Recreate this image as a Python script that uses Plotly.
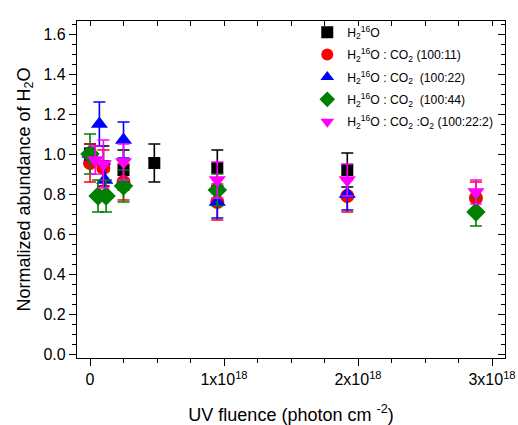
import plotly.graph_objects as go

# ---- data (fluence in units of 1e18 photon cm^-2) ----
h2o_x = [0.0, 0.10, 0.25, 0.48, 0.95, 1.92]
h2o_y = [1.00, 0.94, 0.92, 0.955, 0.93, 0.92]
h2o_e = [0.05, 0.10, 0.10, 0.095, 0.09, 0.085]

co2_11_x = [0.0, 0.10, 0.25, 0.95, 1.92, 2.88]
co2_11_y = [0.955, 0.93, 0.86, 0.76, 0.79, 0.78]
co2_11_e = [0.095, 0.09, 0.09, 0.09, 0.08, 0.08]

co2_22_x = [0.0, 0.07, 0.11, 0.25, 0.95, 1.92]
co2_22_y = [1.00, 1.15, 0.87, 1.07, 0.76, 0.80]
co2_22_e = [0.03, 0.11, 0.08, 0.09, 0.08, 0.08]

co2_44_x = [0.0, 0.06, 0.12, 0.25, 0.95, 2.88]
co2_44_y = [1.00, 0.79, 0.79, 0.84, 0.82, 0.71]
co2_44_e = [0.10, 0.08, 0.08, 0.08, 0.08, 0.07]

o2_x = [0.04, 0.10, 0.25, 0.95, 1.92, 2.88]
o2_y = [0.97, 0.95, 0.96, 0.87, 0.87, 0.81]
o2_e = [0.07, 0.12, 0.09, 0.09, 0.08, 0.06]

x_tickvals = [0, 1, 2, 3]
x_ticktext = ["0", "1x10<sup>18</sup>", "2x10<sup>18</sup>", "3x10<sup>18</sup>"]

series = [
    ("H<sub>2</sub><sup>16</sup>O", h2o_x, h2o_y, h2o_e, "#000000", "square", 12),
    ("H<sub>2</sub><sup>16</sup>O : CO<sub>2</sub> (100:11)", co2_11_x, co2_11_y, co2_11_e, "#ff0000", "circle", 14),
    ("H<sub>2</sub><sup>16</sup>O : CO<sub>2</sub>  (100:22)", co2_22_x, co2_22_y, co2_22_e, "#0000ff", "triangle-up", 15),
    ("H<sub>2</sub><sup>16</sup>O : CO<sub>2</sub>  (100:44)", co2_44_x, co2_44_y, co2_44_e, "#008000", "diamond", 15),
    ("H<sub>2</sub><sup>16</sup>O : CO<sub>2</sub> :O<sub>2</sub> (100:22:2)", o2_x, o2_y, o2_e, "#ff00ff", "triangle-down", 15),
]

fig = go.Figure()
for i, (name, xs, ys, es, col, sym, sz) in enumerate(series):
    fig.add_trace(go.Scatter(
        x=xs, y=ys, mode="markers", name=name, legendgroup=f"g{i}",
        marker=dict(color=col, symbol=sym, size=sz, line=dict(width=0)),
        error_y=dict(type="data", array=es, visible=True, color=col, thickness=1.6, width=6),
    ))

# dummy trace for top / right inner ticks
fig.add_trace(go.Scatter(x=[None], y=[None], xaxis="x2", yaxis="y2", showlegend=False))

font_family = "Liberation Sans, Arial, sans-serif"
xr = [-0.097, 3.097]
yr = [-0.02, 1.665]

fig.update_layout(
    width=518, height=425,
    margin=dict(l=77, r=13, t=21, b=67, autoexpand=False),
    paper_bgcolor="white", plot_bgcolor="white",
    font=dict(family=font_family, color="black"),
    showlegend=True,
    legend=dict(x=0.538, y=1.01, xanchor="left", yanchor="top",
                bgcolor="rgba(0,0,0,0)", font=dict(size=12.2, family=font_family),
                tracegroupgap=3.4, itemsizing="constant"),
    xaxis=dict(range=xr, tickvals=x_tickvals, ticktext=x_ticktext, automargin=False,
               showgrid=False, zeroline=False, showline=True, linecolor="black", linewidth=1.3,
               mirror=True, ticks="outside", ticklen=7, tickwidth=1.3, tickcolor="black",
               minor=dict(dtick=0.25, ticks="outside", ticklen=4, tickwidth=1.3, tickcolor="black"),
               tickfont=dict(size=16),
               title=dict(text="UV fluence (photon cm <sup>-2</sup>)", font=dict(size=18), standoff=22)),
    yaxis=dict(range=yr, dtick=0.2, tick0=0, tickformat=".1f", automargin=False,
               showgrid=False, zeroline=False, showline=True, linecolor="black", linewidth=1.3,
               mirror=True, ticks="outside", ticklen=7, tickwidth=1.3, tickcolor="black",
               minor=dict(dtick=0.05, ticks="outside", ticklen=4, tickwidth=1.3, tickcolor="black"),
               tickfont=dict(size=16),
               title=dict(text="Normalized abundance of H<sub>2</sub>O", font=dict(size=18), standoff=8)),
    xaxis2=dict(range=xr, overlaying="x", side="top", showticklabels=False, showgrid=False,
                zeroline=False, tickvals=[0, 0.25, 0.5, 0.75, 1, 1.25, 1.5, 1.75, 2, 2.25, 2.5, 2.75, 3],
                ticks="inside", ticklen=5, tickwidth=1.3, tickcolor="black"),
    yaxis2=dict(range=yr, overlaying="y", side="right", showticklabels=False, showgrid=False,
                zeroline=False, dtick=0.2, tick0=0,
                ticks="inside", ticklen=7, tickwidth=1.3, tickcolor="black",
                minor=dict(dtick=0.05, ticks="inside", ticklen=4, tickwidth=1.3, tickcolor="black")),
)

fig.write_html("out.html")
